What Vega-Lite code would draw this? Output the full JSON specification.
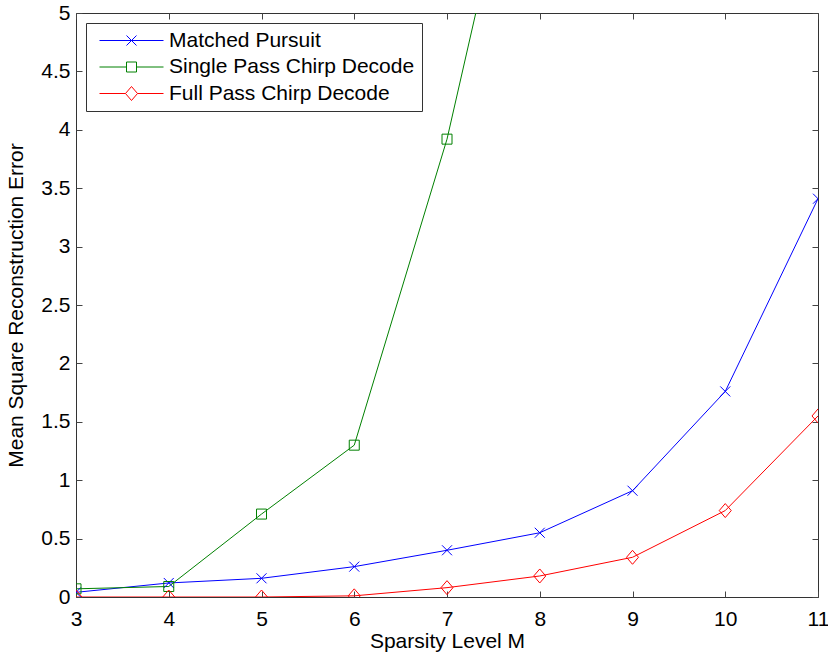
{
  "$schema": "https://vega.github.io/schema/vega-lite/v6.json",
  "width": 742,
  "height": 584,
  "autosize": {"type": "none"},
  "padding": {"left": 76, "top": 13, "right": 10, "bottom": 62},
  "background": "white",
  "config": {
    "view": {"stroke": "#333333", "strokeWidth": 1},
    "font": "Liberation Sans",
    "axis": {
      "grid": false,
      "domain": false,
      "labelFlush": false,
      "tickColor": "#444444",
      "tickSize": -6,
      "labelFont": "Liberation Sans",
      "labelFontSize": 21,
      "labelColor": "black",
      "titleFont": "Liberation Sans",
      "titleFontSize": 21,
      "titleFontWeight": "normal",
      "titleColor": "black"
    }
  },
  "data": {
    "values": [
      {"series": "Matched Pursuit", "M": 3, "err": 0.04},
      {"series": "Matched Pursuit", "M": 4, "err": 0.12},
      {"series": "Matched Pursuit", "M": 5, "err": 0.16},
      {"series": "Matched Pursuit", "M": 6, "err": 0.26},
      {"series": "Matched Pursuit", "M": 7, "err": 0.40},
      {"series": "Matched Pursuit", "M": 8, "err": 0.55},
      {"series": "Matched Pursuit", "M": 9, "err": 0.91},
      {"series": "Matched Pursuit", "M": 10, "err": 1.76},
      {"series": "Matched Pursuit", "M": 11, "err": 3.41},
      {"series": "Single Pass Chirp Decode", "M": 3, "err": 0.07},
      {"series": "Single Pass Chirp Decode", "M": 4, "err": 0.09},
      {"series": "Single Pass Chirp Decode", "M": 5, "err": 0.71},
      {"series": "Single Pass Chirp Decode", "M": 6, "err": 1.30},
      {"series": "Single Pass Chirp Decode", "M": 7, "err": 3.92},
      {"series": "Single Pass Chirp Decode", "M": 8, "err": 7.4},
      {"series": "Full Pass Chirp Decode", "M": 3, "err": 0.0},
      {"series": "Full Pass Chirp Decode", "M": 4, "err": 0.0},
      {"series": "Full Pass Chirp Decode", "M": 5, "err": 0.0},
      {"series": "Full Pass Chirp Decode", "M": 6, "err": 0.01},
      {"series": "Full Pass Chirp Decode", "M": 7, "err": 0.08},
      {"series": "Full Pass Chirp Decode", "M": 8, "err": 0.18},
      {"series": "Full Pass Chirp Decode", "M": 9, "err": 0.34},
      {"series": "Full Pass Chirp Decode", "M": 10, "err": 0.74},
      {"series": "Full Pass Chirp Decode", "M": 11, "err": 1.55}
    ]
  },
  "layer": [
    {
      "mark": {"type": "line", "strokeWidth": 1, "clip": true},
      "encoding": {
        "x": {"field": "M", "type": "quantitative", "scale": {"domain": [3, 11], "nice": false, "zero": false},
              "axis": {"title": "Sparsity Level M", "values": [3,4,5,6,7,8,9,10,11], "labelPadding": 17, "titlePadding": 1}},
        "y": {"field": "err", "type": "quantitative", "scale": {"domain": [0, 5], "nice": false},
              "axis": {"title": "Mean Square Reconstruction Error", "values": [0,0.5,1,1.5,2,2.5,3,3.5,4,4.5,5], "format": "~g", "labelPadding": 12, "titlePadding": 14}},
        "color": {
          "field": "series", "type": "nominal",
          "scale": {"domain": ["Matched Pursuit", "Single Pass Chirp Decode", "Full Pass Chirp Decode"], "range": ["#0000ff", "#008000", "#ff0000"]},
          "legend": {
            "title": null,
            "orient": "top-left",
            "offset": 10,
            "strokeColor": "#333333",
            "fillColor": "white",
            "padding": 7,
            "labelFont": "Liberation Sans",
            "labelFontSize": 21,
            "labelColor": "black",
            "labelLimit": 0,
            "symbolSize": 100,
            "symbolStrokeWidth": 1,
            "symbolOffset": 28,
            "labelOffset": 27,
            "rowPadding": 4.5,
            "encode": {
              "symbols": {
                "update": {
                  "shape": {"signal": "datum.value === 'Matched Pursuit' ? 'M-6.4,0H6.4M-1,-1L1,1M-1,1L1,-1' : datum.value === 'Single Pass Chirp Decode' ? 'M-6.4,0H-1M1,0H6.4M-1,-1H1V1H-1Z' : 'M-6.4,0H-1.2M1.2,0H6.4M0,-1.4L1.2,0L0,1.4L-1.2,0Z'"},
                  "fill": {"value": "transparent"}
                }
              }
            }
          }
        }
      }
    },
    {
      "transform": [{"filter": "datum.series === 'Matched Pursuit'"}],
      "mark": {"type": "point", "filled": false, "strokeWidth": 1, "size": 100, "clip": true, "opacity": 1, "shape": "M-1,-1L1,1M-1,1L1,-1"},
      "encoding": {
        "x": {"field": "M", "type": "quantitative", "axis": null},
        "y": {"field": "err", "type": "quantitative", "axis": null},
        "color": {"field": "series", "type": "nominal", "legend": null}
      }
    },
    {
      "transform": [{"filter": "datum.series === 'Single Pass Chirp Decode'"}],
      "mark": {"type": "point", "filled": false, "strokeWidth": 1, "size": 100, "clip": true, "opacity": 1, "shape": "M-1,-1H1V1H-1Z"},
      "encoding": {
        "x": {"field": "M", "type": "quantitative", "axis": null},
        "y": {"field": "err", "type": "quantitative", "axis": null},
        "color": {"field": "series", "type": "nominal", "legend": null}
      }
    },
    {
      "transform": [{"filter": "datum.series === 'Full Pass Chirp Decode'"}],
      "mark": {"type": "point", "filled": false, "strokeWidth": 1, "size": 100, "clip": true, "opacity": 1, "shape": "M0,-1.4L1.2,0L0,1.4L-1.2,0Z"},
      "encoding": {
        "x": {"field": "M", "type": "quantitative", "axis": null},
        "y": {"field": "err", "type": "quantitative", "axis": null},
        "color": {"field": "series", "type": "nominal", "legend": null}
      }
    },
    {
      "mark": {"type": "point", "opacity": 0},
      "encoding": {
        "x": {"field": "M", "type": "quantitative", "axis": {"orient": "top", "labels": false, "title": null, "values": [3,4,5,6,7,8,9,10,11]}},
        "y": {"field": "err", "type": "quantitative", "axis": {"orient": "right", "labels": false, "title": null, "values": [0,0.5,1,1.5,2,2.5,3,3.5,4,4.5,5]}}
      }
    }
  ],
  "resolve": {"axis": {"x": "independent", "y": "independent"}}
}
